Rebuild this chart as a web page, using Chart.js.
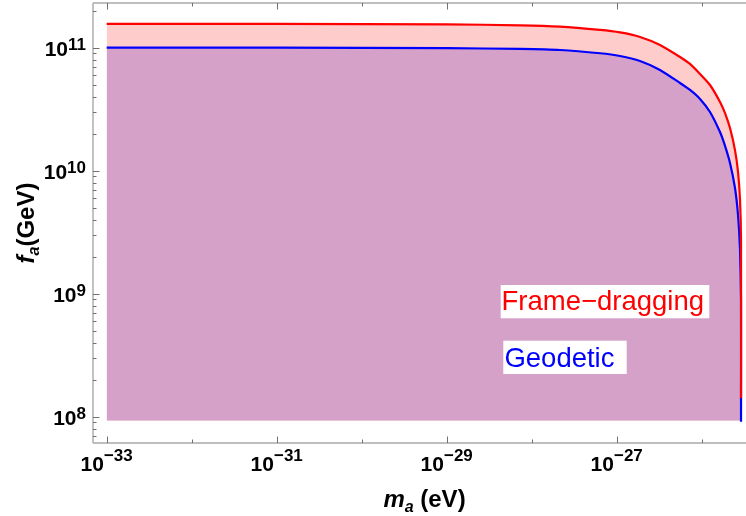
<!DOCTYPE html>
<html><head><meta charset="utf-8">
<script src="https://cdn.jsdelivr.net/npm/chart.js@4/dist/chart.umd.min.js"></script>
<style>html,body{margin:0;padding:0;background:#fff;overflow:hidden}</style>
</head><body>
<canvas id="c" width="746" height="516"></canvas>
<script>
// ---- data ----
const massEV = [1e-33, 1e-31, 1e-29, 7.29e-29, 2.15e-28, 6.36e-28, 1.094e-27, 1.879e-27, 3.232e-27, 5.555e-27, 7.285e-27, 9.55e-27, 1.252e-26, 1.642e-26, 1.880e-26, 2.152e-26, 2.464e-26, 2.674e-26, 2.822e-26, 2.900e-26, 2.900e-26];
const faFrameDragging = [1.56e11, 1.56e11, 1.547e11, 1.520e11, 1.482e11, 1.393e11, 1.329e11, 1.222e11, 1.052e11, 8.40e10, 7.37e10, 6.11e10, 4.97e10, 3.62e10, 2.94e10, 2.22e10, 1.47e10, 9.76e9, 5.78e9, 2.73e9, 1.42e8];
const faGeodetic = [1.0e11, 1.0e11, 9.91e10, 9.76e10, 9.57e10, 9.01e10, 8.56e10, 7.80e10, 6.59e10, 5.16e10, 4.53e10, 3.83e10, 3.00e10, 2.06e10, 1.59e10, 1.155e10, 7.23e9, 4.36e9, 2.27e9, 8.89e8, 9.1e7];
const fillFloor = 9.3e7;
const xTickExps = [-33, -32, -31, -30, -29, -28, -27, -26];
const xLabelExps = [-33, -31, -29, -27];
const yLabelExps = [8, 9, 10, 11];
const seriesNames = ['Frame\u2212dragging', 'Geodetic'];
const xTitle = ['m', 'a', ' (eV)'];
const yTitle = ['f', 'a', '(GeV)'];

const FONT = '"Liberation Sans", Arial, sans-serif';
const RED = '#ff0000', BLUE = '#0000ff';
const PINK = '#ffcccc', PURPLE = '#d5a1c9';
const TENSION = 0.2;

const pts = (ys) => massEV.map((m, i) => ({x: m, y: ys[i]}));

const decor = {
  id: 'decor',
  afterDraw(chart) {
    const {ctx, chartArea: a, scales: {x, y}} = chart;
    ctx.save();
    const seg = (x1, y1, x2, y2) => { ctx.beginPath(); ctx.moveTo(x1, y1); ctx.lineTo(x2, y2); ctx.stroke(); };
    // frame (left, top, bottom)
    ctx.strokeStyle = '#a8a8a8'; ctx.lineWidth = 1.4;
    seg(a.left, a.top, a.right, a.top);
    seg(a.left, a.top, a.left, a.bottom);
    seg(a.left, a.bottom, a.right, a.bottom);
    // x ticks (inside, bottom & top)
    ctx.strokeStyle = '#707070'; ctx.lineWidth = 1;
    xTickExps.forEach(e => {
      const px = Math.round(x.getPixelForValue(Math.pow(10, e))) + 0.5;
      const len = xLabelExps.includes(e) ? 6.5 : 3.5;
      seg(px, a.bottom, px, a.bottom - len);
      seg(px, a.top, px, a.top + len);
    });
    // y ticks (major + minor)
    for (let n = 7; n <= 11; n++) {
      for (let k = 1; k <= 9; k++) {
        const v = k * Math.pow(10, n);
        if (v < y.min || v > y.max) continue;
        const py = Math.round(y.getPixelForValue(v)) + 0.5;
        const len = k === 1 ? 6.5 : 3.5;
        seg(a.left, py, a.left + len, py);
      }
    }
    // tick labels
    ctx.fillStyle = '#000';
    const sup = e => (e < 0 ? '\u2212' : '') + Math.abs(e);
    xLabelExps.forEach(e => {
      const px = x.getPixelForValue(Math.pow(10, e));
      ctx.font = 'bold 21px ' + FONT; const w1 = ctx.measureText('10').width;
      ctx.font = 'bold 17px ' + FONT; const w2 = ctx.measureText(sup(e)).width;
      const s = px - (w1 + w2) / 2;
      ctx.textAlign = 'left'; ctx.textBaseline = 'alphabetic';
      ctx.font = 'bold 21px ' + FONT; ctx.fillText('10', s, a.bottom + 28);
      ctx.font = 'bold 17px ' + FONT; ctx.fillText(sup(e), s + w1, a.bottom + 17.5);
    });
    yLabelExps.forEach(e => {
      const py = y.getPixelForValue(Math.pow(10, e));
      ctx.font = 'bold 21px ' + FONT; const w1 = ctx.measureText('10').width;
      ctx.font = 'bold 17px ' + FONT; const w2 = ctx.measureText(sup(e)).width;
      const s = a.left - 7 - (w1 + w2);
      ctx.textAlign = 'left'; ctx.textBaseline = 'alphabetic';
      ctx.font = 'bold 21px ' + FONT; ctx.fillText('10', s, py + 8.3);
      ctx.font = 'bold 17px ' + FONT; ctx.fillText(sup(e), s + w1, py + 2.5);
    });
    // axis titles
    const titleParts = (parts) => [
      {t: parts[0], f: 'italic bold 24px ' + FONT, dy: 0},
      {t: parts[1], f: 'italic bold 16px ' + FONT, dy: 5},
      {t: parts[2], f: 'bold 24px ' + FONT, dy: 0}
    ];
    const drawTitle = (parts, cx, base) => {
      const p = titleParts(parts);
      let tw = 0;
      p.forEach(q => { ctx.font = q.f; q.w = ctx.measureText(q.t).width; tw += q.w; });
      let cur = cx - tw / 2;
      p.forEach(q => { ctx.font = q.f; ctx.fillText(q.t, cur, base + q.dy); cur += q.w; });
    };
    ctx.textAlign = 'left';
    drawTitle(xTitle, 424.5, 507);
    ctx.save();
    ctx.translate(34, (a.top + a.bottom) / 2);
    ctx.rotate(-Math.PI / 2);
    drawTitle(yTitle, 0, 0);
    ctx.restore();
    // in-plot labels
    ctx.fillStyle = '#fff';
    ctx.fillRect(500.7, 285, 208.6, 33.3);
    ctx.fillRect(503.3, 340.7, 123.4, 33.3);
    ctx.font = '27.5px ' + FONT; ctx.fillStyle = RED;
    ctx.fillText(seriesNames[0], 501.5, 309.8);
    ctx.font = '27.5px ' + FONT; ctx.fillStyle = BLUE;
    ctx.fillText(seriesNames[1], 504.4, 366.8);
    ctx.restore();
  }
};

new Chart(document.getElementById('c'), {
  type: 'line',
  data: {
    datasets: [
      {label: seriesNames[0], data: pts(faFrameDragging), borderColor: RED, borderWidth: 2.2, fill: false, pointRadius: 0, tension: TENSION},
      {label: seriesNames[1], data: pts(faGeodetic), borderColor: BLUE, borderWidth: 2.2, fill: false, pointRadius: 0, tension: TENSION},
      {label: 'geo-fill', data: pts(faGeodetic), borderWidth: 0, borderColor: 'rgba(0,0,0,0)', backgroundColor: PURPLE, fill: {value: fillFloor}, pointRadius: 0, tension: TENSION},
      {label: 'fd-fill', data: pts(faFrameDragging), borderWidth: 0, borderColor: 'rgba(0,0,0,0)', backgroundColor: PINK, fill: {value: fillFloor}, pointRadius: 0, tension: TENSION}
    ]
  },
  options: {
    responsive: false,
    animation: false,
    devicePixelRatio: 1,
    layout: {padding: {left: 93, top: 3, right: 0, bottom: 73}},
    plugins: {legend: {display: false}, tooltip: {enabled: false}},
    scales: {
      x: {type: 'logarithmic', bounds: 'data', min: Math.pow(10, -33.161), max: Math.pow(10, -25.479), display: false},
      y: {type: 'logarithmic', bounds: 'data', min: Math.pow(10, 7.786), max: Math.pow(10, 11.363), display: false}
    }
  },
  plugins: [decor]
});
</script>
</body></html>
